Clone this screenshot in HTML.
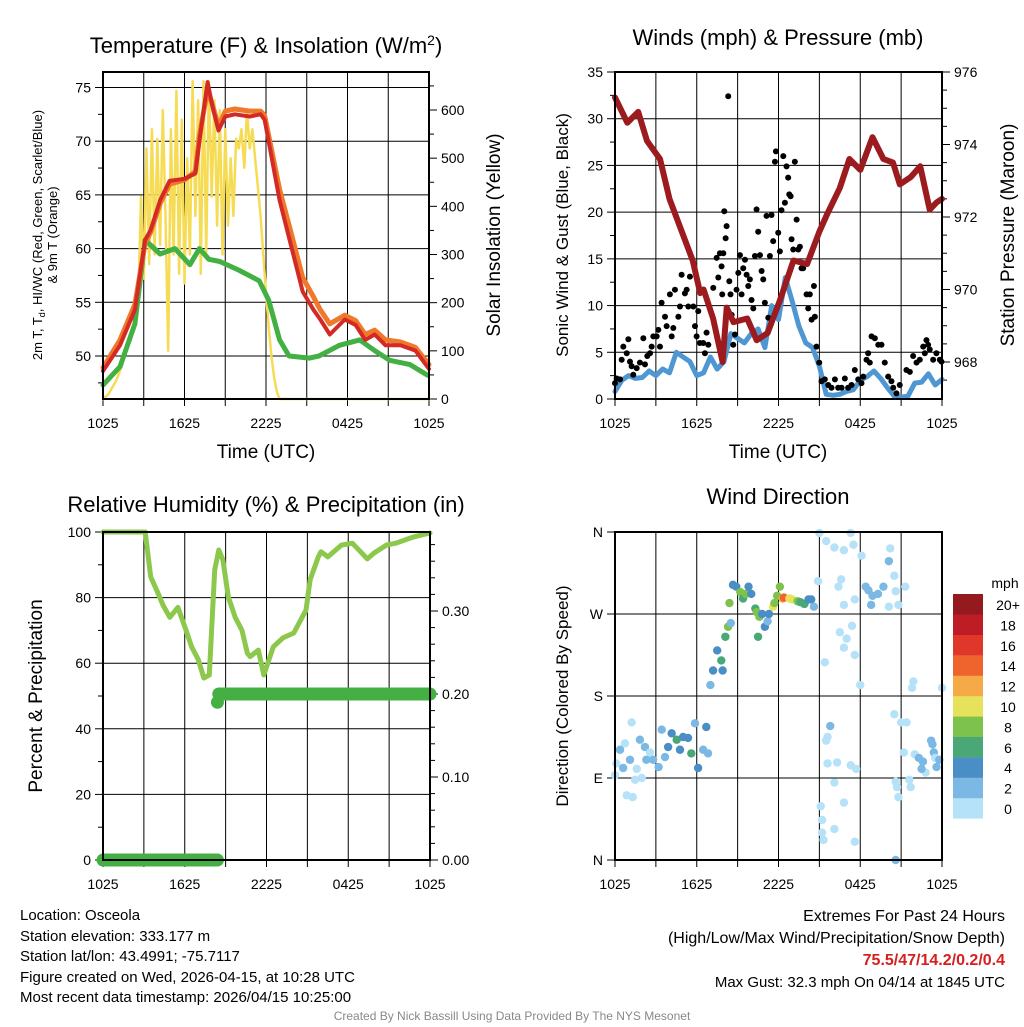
<!DOCTYPE html>
<html><head><meta charset="utf-8"><style>
body{margin:0;background:#fff;width:1024px;height:1024px;overflow:hidden}
svg{display:block;font-family:"Liberation Sans",sans-serif}
.ft{position:absolute;font-family:"Liberation Sans",sans-serif;font-size:15px;color:#000;line-height:20.5px}
</style></head><body>
<svg id="c" width="1024" height="1024" viewBox="0 0 1024 1024"></svg>
<div class="ft" style="left:20px;top:906px">Location: Osceola<br>Station elevation: 333.177 m<br>Station lat/lon: 43.4991; -75.7117<br>Figure created on Wed, 2026-04-15, at 10:28 UTC<br>Most recent data timestamp: 2026/04/15 10:25:00</div>
<div class="ft" style="right:19px;top:906px;text-align:right;font-size:16px;line-height:22px">Extremes For Past 24 Hours<br>(High/Low/Max Wind/Precipitation/Snow Depth)<br><b style="color:#d42020">75.5/47/14.2/0.2/0.4</b><br><span style="font-size:15px">Max Gust: 32.3 mph On 04/14 at 1845 UTC</span></div>
<div class="ft" style="left:0;width:1024px;top:1006px;text-align:center;font-size:12px;color:#888">Created By Nick Bassill Using Data Provided By The NYS Mesonet</div>
<script>
// ---- data ----
const xTickLabels=["1025","1625","2225","0425","1025"];
const tempH=[0,1.25,2.35,3.1,3.5,4.2,4.9,6.0,6.8,7.1,7.7,8.1,8.5,9.0,9.7,10.8,11.6,11.9,13.0,13.9,14.7,15.5,16.0,16.7,17.8,18.6,19.3,20.0,20.8,21.9,23.0,24];
const tempT=[48.6,51,54.3,60.8,61.7,64.5,66.3,66.5,67,70,75.5,73,71,72.3,72.5,72.3,72.5,72,64.5,60,56,54.3,53.4,52,53.4,52.9,51.5,52,51,51,50.5,48.8];
const temp9=[48.9,51.5,54.8,60.5,61.5,64.2,66.0,66.4,67.2,70.5,74.8,73.2,71.4,72.8,73.0,72.8,72.8,72.4,65.5,61.2,57.3,55.5,54.3,53.0,53.8,53.3,52,52.4,51.5,51.3,50.8,49.2];
const dewH=[0,1.25,2.35,3.1,4.2,5.3,6.4,7.1,7.8,8.6,10.0,11.5,12.2,13.0,13.7,15.2,15.9,17.4,18.9,20.0,21.1,22.6,23.9];
const dewT=[47.3,49,53,60.8,59.5,60,58.5,60,59,58.8,58,57,55.2,51.5,50,49.8,50,51,51.5,50.5,49.6,49.2,48.2];
const solarH=[0,0.2,0.4,0.6,0.8,1.0,1.2,1.4,1.6,1.8,2.0,2.2,2.4,2.6,2.8,3.0,3.2,3.4,3.6,3.8,4.0,4.2,4.4,4.6,4.8,5.0,5.2,5.4,5.6,5.8,6.0,6.2,6.4,6.6,6.8,7.0,7.2,7.4,7.6,7.8,8.0,8.2,8.4,8.6,8.8,9.0,9.2,9.4,9.6,9.8,10.0,10.2,10.4,10.6,10.8,11.0,11.2,11.4,11.6,11.8,12.0,12.2,12.4,12.6,12.8,13.0,24];
const solarV=[0,5,10,20,30,40,55,70,90,110,130,150,170,200,420,250,520,280,560,300,540,320,600,380,100,560,300,640,260,580,240,500,300,660,380,620,260,660,300,660,420,620,360,600,300,560,360,500,380,540,520,560,480,600,520,560,500,440,380,300,220,150,90,45,15,0,0];
const windH=[0,0.5,1,1.5,2,2.5,3,3.5,4,4.5,5,5.5,6,6.5,7,7.5,8,8.5,9,9.5,10,10.5,11,11.5,12,12.5,13,13.5,14,14.5,15,15.5,16,16.5,17,17.5,18,18.5,19,19.5,20,20.5,21,21.5,22,22.5,23,23.5,24];
const windV=[0.8,2.0,2.5,2.2,2.3,3.0,2.5,3.2,2.8,5.0,4.5,4.0,2.5,2.8,4.5,3.2,4.0,7.0,6.5,6.0,7.0,7.5,5.5,10.0,8.5,13.0,10.5,7.8,6.0,5.5,3.5,0.5,0.4,0.5,0.8,1.0,2.0,2.4,3.0,2.2,1.2,0.3,0.2,0.3,1.7,1.8,2.7,1.5,2.1];
const gustH=[0,0.12,0.37,0.49,0.61,0.86,0.98,1.1,1.22,1.34,1.59,1.83,2.08,2.2,2.37,2.57,2.69,2.81,3.06,3.18,3.3,3.42,3.67,3.79,4.03,4.16,4.28,4.4,4.65,4.77,4.89,5.13,5.26,5.38,5.5,5.75,5.87,5.99,6.11,6.23,6.48,6.6,6.72,6.85,7.21,7.46,7.58,7.7,7.82,7.87,7.95,8.02,8.12,8.19,8.31,8.39,8.48,8.56,8.68,8.8,8.92,9.05,9.17,9.29,9.41,9.54,9.66,9.78,9.9,10.02,10.15,10.27,10.39,10.51,10.64,10.76,10.88,11.0,11.12,11.25,11.37,11.49,11.61,11.74,11.81,11.98,12.1,12.22,12.35,12.47,12.59,12.71,12.79,12.89,12.96,13.08,13.2,13.33,13.45,13.57,13.69,13.81,14.06,14.18,14.3,14.43,14.6,14.67,14.79,14.99,15.16,15.4,15.65,15.89,16.14,16.38,16.63,16.87,17.11,17.36,17.6,17.85,18.09,18.22,18.46,18.58,18.7,18.83,19.07,19.32,19.56,19.8,20.05,20.29,20.42,20.66,20.9,21.39,21.64,21.88,22.13,22.37,22.62,22.74,22.86,22.98,23.1,23.35,23.59,23.84,23.96];
const gustV=[1.7,2.2,2.1,4.2,5.6,4.9,6.4,4.0,3.5,2.6,3.3,3.9,6.5,3.7,4.6,4.9,5.6,6.7,6.7,7.4,5.6,10.3,8.8,7.8,11.2,6.7,7.6,11.7,8.8,9.9,13.3,11.3,11.7,9.9,13.1,9.9,7.8,6.7,9.4,6.0,6.0,4.9,7.1,5.8,11.9,15.1,13.0,15.6,14.2,11.2,15.6,20.1,17.2,18.5,32.4,12.6,11.2,9.0,5.8,6.9,11.7,13.5,15.4,11.2,14.0,14.9,13.3,12.1,12.8,10.6,9.7,15.3,20.3,17.9,15.4,13.7,12.8,10.3,19.6,8.7,15.3,19.7,16.9,25.4,26.5,17.8,15.8,20.2,26.0,21.0,24.9,23.7,21.9,21.7,17.1,16.0,25.4,19.2,16.0,16.3,14.0,14.0,11.2,9.7,11.2,8.5,12.1,8.8,5.6,3.9,1.9,2.1,1.5,1.2,2.1,1.2,1.2,2.2,1.2,1.5,3.1,2.1,1.7,2.4,4.2,4.9,3.9,6.7,6.5,5.8,5.8,3.9,2.4,1.9,1.2,0.6,1.5,3.1,2.9,4.6,3.9,4.2,5.6,4.9,6.3,5.8,5.3,4.2,4.9,4.2,4.0];
const presH=[0,0.9,1.7,2.35,3.3,4.0,5.7,6.25,6.5,7.2,7.9,8.2,8.7,9.7,10.4,11.2,12.1,13.1,14.1,15.0,15.6,16.5,17.2,18.0,18.9,19.7,20.4,20.9,21.7,22.4,23.1,23.6,24];
const presV=[975.3,974.6,974.9,974.1,973.6,972.5,970.8,969.9,970.0,969.2,968.0,969.5,969.1,969.2,968.6,968.8,969.7,970.8,970.7,971.6,972.1,972.8,973.6,973.3,974.2,973.6,973.5,972.9,973.1,973.4,972.2,972.4,972.5];
const rhH=[0,3.1,3.5,4.0,4.4,4.9,5.5,6.1,6.5,7.0,7.4,7.8,8.2,8.5,8.8,9.2,9.7,10.2,10.6,10.8,11.4,11.8,12.5,13.2,14.0,14.9,15.2,15.8,16.0,16.5,17.5,18.3,18.9,19.4,19.9,20.8,21.5,22.8,24];
const rhV=[100,100,86.3,81.7,77.7,74,77,70,65,61,55.5,56.4,88.4,94.5,91.5,80.2,74,70,63,62,64,56.4,65,67.7,69.2,76.2,85.4,92.4,94,92.4,96,96.6,94,91.8,93.6,96,96.6,98.5,99.7];
const precipH=[0,8.4,8.5,24];
const precipV=[0,0,0.2,0.2];
const dirH=[0,0.37,0.6,0.73,0.86,1.1,1.22,1.47,1.83,1.96,2.2,2.57,2.8,3.2,3.43,3.67,3.9,4.16,4.53,4.77,5.0,5.36,5.6,5.87,6.1,6.47,6.7,6.83,1.3,0.1,1.6,2.3,7.0,7.2,7.5,7.8,7.9,8.1,8.3,8.4,8.5,8.66,8.9,9.2,9.4,9.6,9.8,10.0,10.3,10.4,10.6,10.8,11.0,10.5,11.2,11.3,11.6,11.7,11.9,12.1,12.3,12.4,12.8,13.0,13.4,13.6,13.9,14.2,14.4,14.6,15.0,15.5,16.1,16.8,17.3,17.5,18.1,14.9,16.4,16.6,16.8,17.6,16.5,17.0,16.8,17.4,17.6,15.4,18.0,18.4,18.6,18.9,18.8,19.3,19.7,20.1,20.2,20.1,20.5,20.8,20.6,21.3,21.9,21.8,24,15.8,15.6,15.5,15.6,16.3,16.1,15.1,15.2,15.2,15.3,16.1,16.8,17.3,17.7,17.6,20.5,21.0,21.4,21.2,20.6,20.7,20.8,21.6,21.7,20.6,22.0,22.3,22.6,22.8,23.2,23.3,23.4,23.5,23.8,23.6,22.5];
const dirV=[93,121,101,128,71,110,151,88,132,90,124,118,110,102,143,113,124,139,132,121,135,134,117,150,101,121,146,117,69,106,100,110,192,208,230,219,208,245,256,282,260,302,300,294,287,292,300,292,276,272,267,270,256,245,262,270,278,282,290,300,287,288,287,286,284,283,281,286,286,278,359,350,343,340,359,346,334,306,300,308,280,286,250,243,233,257,225,217,192,300,296,290,280,292,300,278,342,328,312,280,295,300,196,189,189,147,135,131,106,107,85,59,44,30,22,34,63,104,100,20,160,151,151,118,86,80,69,88,80,0,116,112,108,96,131,127,118,112,110,102,100];
const dirS=[1,3,3,1,1,3,1,1,3,1,3,1,3,3,3,3,5,5,7,5,5,5,7,3,5,3,5,3,1,1,1,3,3,5,5,7,5,7,9,9,3,5,5,9,7,9,5,5,7,9,9,5,5,7,3,5,11,9,9,9,13,15,11,11,9,7,7,5,5,3,1,1,1,1,1,1,1,1,1,1,1,1,1,1,1,1,1,1,1,3,3,3,3,3,3,1,1,3,1,1,1,1,1,1,1,3,1,1,1,1,1,1,1,1,1,1,1,1,1,1,1,1,1,1,1,1,1,1,1,3,1,3,3,1,3,3,3,1,3,3,3];
const speedColors=["#b5e2f8","#7bb8e3","#4a8ec6","#49a876","#7cc24d","#e7e25b","#f6aa47","#ef632c","#df382b","#be1d26","#941a1d"];
const speedLabels=["0","2","4","6","8","10","12","14","16","18","20+"];

// ---- helpers ----
const svg=document.getElementById('c');
const NS="http://www.w3.org/2000/svg";
function mk(tag,a,parent){const e=document.createElementNS(NS,tag);for(const k in a)e.setAttribute(k,a[k]);(parent||svg).appendChild(e);return e;}
function txt(x,y,s,size,anchor,extra){const e=mk('text',Object.assign({x:x,y:y,'font-size':size,'text-anchor':anchor||'middle',fill:'#000'},extra||{}));e.textContent=s;return e;}
function linear(d0,d1,r0,r1){return v=>r0+(v-d0)*(r1-r0)/(d1-d0);}
function pathD(xs,ys,fx,fy){return xs.map((h,i)=>(i?'L':'M')+fx(h).toFixed(1)+','+fy(ys[i]).toFixed(1)).join('');}

function frame(P,name){
  const g=mk('g',{});
  
  
  // vertical grid each 3h
  for(let i=0;i<=8;i++){const x=P.fx(i*3);
    const l=mk('line',{x1:x,x2:x,y1:P.y0,y2:P.y1,stroke:'#000','stroke-width':1},g);
    
    
    mk('line',{x1:x,x2:x,y1:P.y1,y2:P.y1+7,stroke:'#000','stroke-width':1},g);
  }
  xTickLabels.forEach((s,i)=>{const t=txt(P.fx(i*6),P.y1+29,s,14);
    
    });
  return g;
}
function hgrid(g,P,vals,fy){vals.forEach(v=>{const y=fy(v);const l=mk('line',{x1:P.x0,x2:P.x1,y1:y,y2:y,stroke:'#000','stroke-width':1},g);
  
  });}
function ticksL(g,P,vals,fy,labels,minor){
  minor.forEach(v=>mk('line',{x1:P.x0-5,x2:P.x0,y1:fy(v),y2:fy(v),stroke:'#000'},g));
  vals.forEach((v,i)=>{mk('line',{x1:P.x0-8,x2:P.x0,y1:fy(v),y2:fy(v),stroke:'#000'},g);
    const t=txt(P.x0-12,fy(v)+5,labels[i],14,'end');
    
    });
}
function ticksR(g,P,vals,fy,labels,minor){
  minor.forEach(v=>mk('line',{x1:P.x1,x2:P.x1+5,y1:fy(v),y2:fy(v),stroke:'#000'},g));
  vals.forEach((v,i)=>{mk('line',{x1:P.x1,x2:P.x1+8,y1:fy(v),y2:fy(v),stroke:'#000'},g);
    const t=txt(P.x1+12,fy(v)+5,labels[i],14,'start');
    
    });
}
function border(P){const r=mk('rect',{x:P.x0,y:P.y0,width:P.x1-P.x0,height:P.y1-P.y0,fill:'none',stroke:'#000','stroke-width':2});
  
  }
function line(xs,ys,fx,fy,color,w,name){const p=mk('path',{d:pathD(xs,ys,fx,fy),fill:'none',stroke:color,'stroke-width':w,'stroke-linejoin':'round','stroke-linecap':'round'});
  
  return p;}
function rtitle(x,y,s,size,name){const t=txt(x,y,s,size,'middle',{transform:`rotate(-90 ${x} ${y})`});
  
  return t;}

// ---- Panel 1 ----
const P1={x0:103,x1:429,y0:72,y1:399};P1.fx=linear(0,24,P1.x0,P1.x1);
const fyT=linear(50,75,356,87.5), fyS=linear(0,600,399,110);
let g=frame(P1,'temperature');
hgrid(g,P1,[50,55,60,65,70,75],fyT);
ticksL(g,P1,[50,55,60,65,70,75],fyT,["50","55","60","65","70","75"],[47.5,52.5,57.5,62.5,67.5,72.5]);
ticksR(g,P1,[0,100,200,300,400,500,600],fyS,["0","100","200","300","400","500","600"],[50,150,250,350,450,550,650]);
line(solarH,solarV,P1.fx,fyS,'#f6dc55',2.5,'solar-insolation-line');
line(dewH,dewT,P1.fx,fyT,'#43b043',5,'dewpoint-line');
line(tempH,temp9,P1.fx,fyT,'#f0782a',5,'temp-9m-line');
line(tempH,tempT,P1.fx,fyT,'#d42a25',4,'temp-2m-line');
border(P1);
let t=txt(266,53,'',22);t.innerHTML='Temperature (F) &amp; Insolation (W/m<tspan dy="-8" font-size="14">2</tspan><tspan dy="8">)</tspan>';


t=txt(266,458,'Time (UTC)',19);
t=rtitle(42,235,'',13,'temperature-y-axis-title');t.innerHTML='2m T, T<tspan font-size="9" dy="3">d</tspan><tspan dy="-3">, HI/WC (Red, Green, Scarlet/Blue)</tspan>';
rtitle(57,235,'& 9m T (Orange)',13,'temperature-y-axis-title-2');
rtitle(500,235,'Solar Insolation (Yellow)',19,'solar-y-axis-title');

// ---- Panel 2 ----
const P2={x0:615,x1:942,y0:72,y1:399};P2.fx=linear(0,24,P2.x0,P2.x1);
const fyW=linear(0,35,399,72), fyP=linear(968,976,362,72);
g=frame(P2,'winds');
hgrid(g,P2,[5,10,15,20,25,30],fyW);
ticksL(g,P2,[0,5,10,15,20,25,30,35],fyW,["0","5","10","15","20","25","30","35"],[2.5,7.5,12.5,17.5,22.5,27.5,32.5]);
ticksR(g,P2,[968,970,972,974,976],fyP,["968","970","972","974","976"],[967.5,968.5,969,969.5,970.5,971,971.5,972.5,973,973.5,974.5,975,975.5]);
line(windH,windV,P2.fx,fyW,'#4f97d3',5,'sonic-wind-line');
gustH.forEach((h,i)=>{const c=mk('circle',{cx:P2.fx(h),cy:fyW(gustV[i]),r:3,fill:'#000'});
  
  });
line(presH,presV,P2.fx,fyP,'#9b1b1e',6,'pressure-line');
border(P2);
t=txt(778,45,'Winds (mph) & Pressure (mb)',22);
t=txt(778,458,'Time (UTC)',19);
rtitle(568,235,'Sonic Wind & Gust (Blue, Black)',17,'wind-y-axis-title');
rtitle(1014,235,'Station Pressure (Maroon)',19,'pressure-y-axis-title');

// ---- Panel 3 ----
const P3={x0:103,x1:430,y0:532,y1:860};P3.fx=linear(0,24,P3.x0,P3.x1);
const fyR=linear(0,100,860,532), fyPr=linear(0,0.2,860,694);
g=frame(P3,'humidity');
hgrid(g,P3,[20,40,60,80,100],fyR);
ticksL(g,P3,[0,20,40,60,80,100],fyR,["0","20","40","60","80","100"],[10,30,50,70,90]);
ticksR(g,P3,[0,0.1,0.2,0.3],fyPr,["0.00","0.10","0.20","0.30"],[0.02,0.04,0.06,0.08,0.12,0.14,0.16,0.18,0.22,0.24,0.26,0.28,0.32,0.34,0.36,0.38]);
line(rhH,rhV,P3.fx,fyR,'#8cc84b',5,'relative-humidity-line');
line(precipH.slice(0,2),precipV.slice(0,2),P3.fx,fyPr,'#44b044',13,'precip-line-before');
line(precipH.slice(2),precipV.slice(2),P3.fx,fyPr,'#44b044',13,'precip-line-after');
let pc=mk('circle',{cx:P3.fx(precipH[1]),cy:fyPr(0.19),r:6.5,fill:'#44b044'});


border(P3);
t=txt(266,512,'Relative Humidity (%) & Precipitation (in)',22);
rtitle(42,696,'Percent & Precipitation',19,'humidity-y-axis-title');

// ---- Panel 4 ----
const P4={x0:615,x1:942,y0:532,y1:860};P4.fx=linear(0,24,P4.x0,P4.x1);
const fyD=linear(0,360,860,532);
g=frame(P4,'wind-direction');
hgrid(g,P4,[90,180,270,360],fyD);
ticksL(g,P4,[0,90,180,270,360],fyD,["N","E","S","W","N"],[]);
dirH.forEach((h,i)=>{const c=mk('circle',{cx:P4.fx(h),cy:fyD(dirV[i]),r:4.2,fill:speedColors[Math.min(10,Math.floor(dirS[i]/2))]});
  
  });
border(P4);
t=txt(778,504,'Wind Direction',22);
rtitle(568,696,'Direction (Colored By Speed)',17,'direction-y-axis-title');
// colorbar
const cb=mk('g',{});


speedColors.forEach((c,i)=>{const y=798-i*20.4;
  const r=mk('rect',{x:953,y:y,width:30,height:20.6,fill:c},cb);
  
  
  const l=txt(1008,y+16,speedLabels[i],14,'middle');
  
  });
t=txt(1005,588,'mph',14);
</script>
</body></html>
